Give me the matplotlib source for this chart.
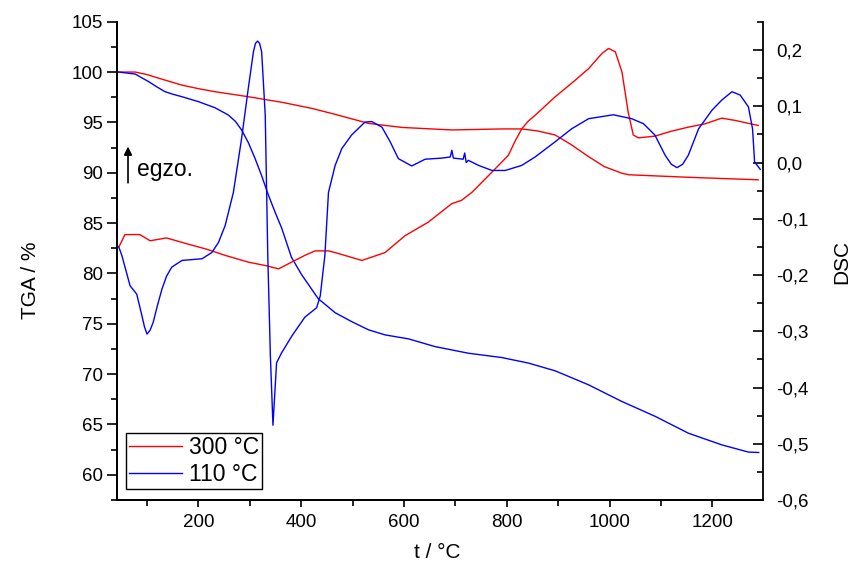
import matplotlib
matplotlib.use('Agg')
import matplotlib.pyplot as plt
from matplotlib.ticker import MultipleLocator, FuncFormatter

plt.rcParams['font.family'] = ['Liberation Sans', 'DejaVu Sans']

# TGA, 300 °C sample (left axis)
t_tga300 = [45, 77, 100, 122, 145, 168, 200, 232, 297, 362, 420, 466, 531, 596,
            693, 790, 829, 860, 894, 925, 959, 990, 1024, 1037, 1153, 1289]
tga300 = [100.0, 100.0, 99.75, 99.4, 99.05, 98.7, 98.35, 98.05, 97.55, 97.0,
          96.4, 95.8, 94.9, 94.5, 94.25, 94.35, 94.35, 94.15, 93.75, 92.8, 91.6,
          90.6, 89.95, 89.8, 89.55, 89.3]

# TGA, 110 °C sample (left axis)
t_tga110 = [45, 77, 103, 120, 135, 150, 168, 200, 232, 258, 272, 284, 297, 310,
            323, 336, 349, 362, 381, 401, 433, 466, 498, 531, 563, 609, 660, 725,
            790, 842, 894, 959, 1024, 1089, 1153, 1218, 1270, 1290]
tga110 = [100.0, 99.8, 99.05, 98.5, 98.05, 97.8, 97.55, 97.06, 96.46, 95.74,
          95.1, 94.25, 93.0, 91.44, 89.7, 87.8, 86.1, 84.5, 81.6, 79.86, 77.5,
          76.1, 75.22, 74.4, 73.9, 73.5, 72.74, 72.08, 71.65, 71.1, 70.33, 68.94,
          67.28, 65.8, 64.14, 62.98, 62.26, 62.22]

# DSC, 300 °C sample (right axis)
t_dsc300 = [45, 48, 57, 86, 106, 138, 180, 216, 252, 297, 330, 356, 375, 407,
            427, 453, 466, 518, 563, 602, 647, 693, 712, 732, 771, 803, 816, 829,
            842, 855, 894, 926, 959, 985, 998, 1011, 1024, 1036, 1046, 1056, 1088,
            1121, 1153, 1186, 1218, 1244, 1289]
dsc300 = [-0.15, -0.145, -0.128, -0.128, -0.139, -0.134, -0.145, -0.154, -0.165,
          -0.177, -0.183, -0.189, -0.180, -0.165, -0.157, -0.157, -0.160, -0.174,
          -0.160, -0.130, -0.106, -0.073, -0.067, -0.053, -0.017, 0.013, 0.038,
          0.060, 0.074, 0.084, 0.117, 0.141, 0.167, 0.194, 0.203, 0.197, 0.161,
          0.090, 0.049, 0.044, 0.047, 0.056, 0.063, 0.069, 0.079, 0.075, 0.066]

# DSC, 110 °C sample (right axis)
t_dsc110 = [45, 51, 67, 80, 90, 95, 100, 106, 112, 120, 129, 138, 148, 168, 207,
            226, 239, 252, 268, 284, 297, 307, 311, 315, 319, 323, 330, 335, 340,
            345, 352, 362, 382, 407, 430, 437, 443, 446, 453, 466, 479, 498, 524,
            537, 557, 573, 589, 615, 641, 674, 690, 693, 696, 715, 718, 721, 725,
            745, 771, 797, 829, 855, 894, 926, 959, 1007, 1043, 1066, 1088, 1108,
            1120, 1131, 1142, 1153, 1173, 1199, 1218, 1238, 1254, 1270, 1278,
            1282, 1293]
dsc110 = [-0.15, -0.165, -0.219, -0.234, -0.272, -0.292, -0.305, -0.298, -0.284,
          -0.255, -0.225, -0.202, -0.186, -0.174, -0.171, -0.160, -0.142, -0.112,
          -0.053, 0.043, 0.132, 0.197, 0.212, 0.216, 0.212, 0.197, 0.084, -0.169,
          -0.344, -0.467, -0.356, -0.338, -0.308, -0.275, -0.258, -0.237, -0.189,
          -0.165, -0.053, -0.005, 0.025, 0.049, 0.072, 0.073, 0.063, 0.037, 0.007,
          -0.006, 0.006, 0.008, 0.010, 0.022, 0.008, 0.006, 0.017, 0.000, 0.004,
          -0.005, -0.014, -0.014, -0.005, 0.010, 0.037, 0.060, 0.078, 0.085,
          0.078, 0.069, 0.049, 0.013, -0.003, -0.009, -0.003, 0.013, 0.060,
          0.093, 0.111, 0.126, 0.120, 0.099, 0.060, 0.001, -0.012]

labels = ['300 °C', '110 °C']
red = '#ff0000'
blue = '#0000ff'

fig = plt.figure(figsize=(8.6, 5.71), dpi=100)
ax = fig.add_axes([0.1357, 0.1243, 0.7519, 0.8377])
ax2 = ax.twinx()

l1, = ax.plot(t_tga300, tga300, color=red, lw=1.0)
l2, = ax.plot(t_tga110, tga110, color=blue, lw=1.0)
ax2.plot(t_dsc300, dsc300, color=red, lw=1.0)
ax2.plot(t_dsc110, dsc110, color=blue, lw=1.0)

ax.set_xlim(41, 1299)
ax.set_ylim(57.5, 105)
ax2.set_ylim(-0.6, 0.2505)

for a in (ax, ax2):
    a.spines['top'].set_visible(False)
    for s in a.spines.values():
        s.set_linewidth(1.3)
ax.spines['right'].set_visible(False)

ax.xaxis.set_major_locator(MultipleLocator(200))
ax.xaxis.set_minor_locator(MultipleLocator(100))
ax.yaxis.set_major_locator(MultipleLocator(5))
ax.yaxis.set_minor_locator(MultipleLocator(2.5))
ax2.yaxis.set_major_locator(MultipleLocator(0.1))
ax2.yaxis.set_minor_locator(MultipleLocator(0.05))
ax2.yaxis.set_major_formatter(FuncFormatter(
    lambda v, p: ('%.1f' % v).replace('.', ',').replace('-0,0', '0,0')))

ax.tick_params(axis='x', which='major', direction='out', length=5, width=1.2,
               labelsize=13.5, pad=5)
ax.tick_params(axis='x', which='minor', direction='out', length=4, width=1.2)
ax.tick_params(axis='y', which='major', direction='out', length=7, width=1.2,
               labelsize=13.5, pad=3)
ax.tick_params(axis='y', which='minor', direction='out', length=4, width=1.2)
ax2.tick_params(axis='y', which='major', direction='in', length=7, width=1.2,
                labelsize=13.5, pad=9)
ax2.tick_params(axis='y', which='minor', direction='in', length=4, width=1.2)

fig.text(0.035, 0.51, 'TGA / %', rotation=90, ha='center', va='center', fontsize=15)
fig.text(0.979, 0.541, 'DSC', rotation=90, ha='center', va='center', fontsize=15)
fig.text(0.508, 0.033, 't / °C', ha='center', va='center', fontsize=15)

# exo direction marker
ax.annotate('', xy=(63, 92.6), xytext=(63, 89.0),
            arrowprops=dict(arrowstyle='-|>', color='black', lw=1.2,
                            mutation_scale=12, shrinkA=0, shrinkB=0))
ax.text(80, 90.3, 'egzo.', fontsize=16.5, ha='left', va='center')

leg = ax2.legend([l1, l2], labels, loc='lower left', bbox_to_anchor=(0.014, 0.023),
                 borderaxespad=0, fontsize=16.5, handlelength=2.3,
                 handletextpad=0.3, borderpad=0.15, labelspacing=0.15,
                 fancybox=False, framealpha=1, edgecolor='black')
leg.get_frame().set_linewidth(1.0)

fig.savefig('out.png', dpi=100)
